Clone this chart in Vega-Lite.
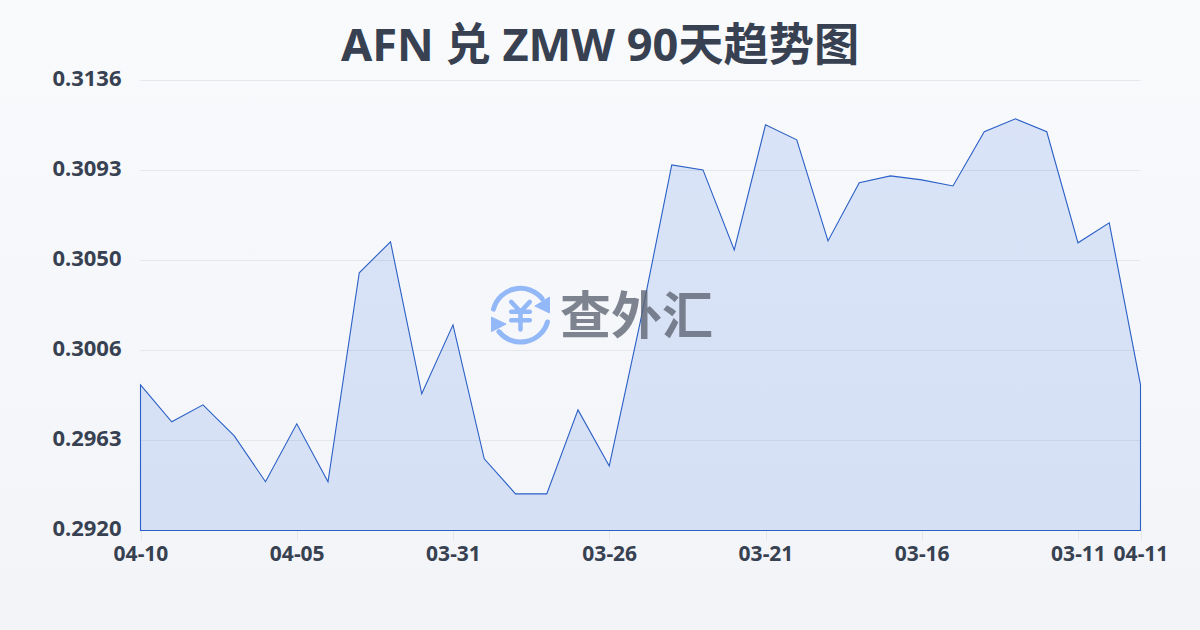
{"$schema":"https://vega.github.io/schema/vega-lite/v6.json","width":1200,"height":630,"autosize":{"type":"none"},"padding":0,"background":"#f6f7fa","title":{"text":"AFN 兑 ZMW 90天趋势图","font":"Noto Sans, Noto Sans CJK SC","fontSize":45.2,"fontWeight":"bold","color":"#374151","anchor":"middle","offset":-70},"config":{"view":{"stroke":null},"font":"Noto Sans"},"view":{"stroke":null,"fill":{"gradient":"linear","x1":0,"y1":0,"x2":0,"y2":1,"stops":[{"offset":0,"color":"#f9fafc"},{"offset":1,"color":"#f2f4f8"}]}},"datasets":{"grid":[{"rate":0.292},{"rate":0.29632},{"rate":0.30064},{"rate":0.30496},{"rate":0.30928},{"rate":0.3136}],"rates":[{"date":"04-10","rate":0.29899},{"date":"04-09","rate":0.29722},{"date":"04-08","rate":0.29803},{"date":"04-07","rate":0.29654},{"date":"04-06","rate":0.29434},{"date":"04-05","rate":0.29712},{"date":"04-04","rate":0.29434},{"date":"04-03","rate":0.30437},{"date":"04-02","rate":0.30586},{"date":"04-01","rate":0.29856},{"date":"03-31","rate":0.30187},{"date":"03-30","rate":0.29544},{"date":"03-29","rate":0.29376},{"date":"03-28","rate":0.29376},{"date":"03-27","rate":0.29779},{"date":"03-26","rate":0.2951},{"date":"03-25","rate":0.30206},{"date":"03-24","rate":0.30955},{"date":"03-23","rate":0.30931},{"date":"03-22","rate":0.30547},{"date":"03-21","rate":0.31147},{"date":"03-20","rate":0.31075},{"date":"03-19","rate":0.3059},{"date":"03-18","rate":0.30869},{"date":"03-17","rate":0.30902},{"date":"03-16","rate":0.30883},{"date":"03-15","rate":0.30854},{"date":"03-14","rate":0.31114},{"date":"03-13","rate":0.31176},{"date":"03-12","rate":0.31114},{"date":"03-11","rate":0.30581},{"date":"03-10","rate":0.30677},{"date":"04-11","rate":0.29899}],"brandText":[{"date":"03-25","rate":0.30214,"label":"查外汇"}],"brandIcon":[{"date":"03-29","rate":0.30234}]},"layer":[{"data":{"name":"grid"},"mark":{"type":"rule","stroke":"#e5e7eb","strokeWidth":1},"encoding":{"x":{"datum":"04-10","type":"ordinal","title":null,"scale":{"type":"point","padding":0,"range":[140.5,1140.5],"domain":["04-10","04-09","04-08","04-07","04-06","04-05","04-04","04-03","04-02","04-01","03-31","03-30","03-29","03-28","03-27","03-26","03-25","03-24","03-23","03-22","03-21","03-20","03-19","03-18","03-17","03-16","03-15","03-14","03-13","03-12","03-11","03-10","04-11"]},"axis":{"title":null,"values":["04-10","04-05","03-31","03-26","03-21","03-16","03-11","04-11"],"offset":-100,"labelAngle":0,"labelFont":"Noto Sans","labelFontSize":21,"labelFontWeight":"bold","labelColor":"#374151","labelOverlap":false,"labelBound":false,"labelFlush":false,"labelPadding":3,"domain":false,"ticks":true,"tickSize":10,"tickColor":"#e5e7eb","grid":false}},"x2":{"datum":"04-11"},"y":{"field":"rate","type":"quantitative","title":null,"scale":{"domain":[0.292,0.3136],"range":[530.5,80.5],"nice":false,"zero":false},"axis":{"title":null,"values":[0.292,0.29632,0.30064,0.30496,0.30928,0.3136],"format":".4f","offset":-140,"labelOffset":-2,"labelFont":"Noto Sans","labelFontSize":22,"labelFontWeight":"bold","labelColor":"#374151","labelPadding":19,"labelOverlap":false,"labelBound":false,"domain":false,"ticks":false,"grid":false}}}},{"data":{"name":"rates"},"mark":{"type":"area","fill":"#2360e0","fillOpacity":0.14,"stroke":"#2a5fc6","strokeWidth":1.1,"strokeOpacity":1},"encoding":{"x":{"field":"date","type":"ordinal","title":null},"y":{"field":"rate","type":"quantitative","title":null},"y2":{"datum":0.292}}},{"data":{"name":"brandText"},"mark":{"type":"text","font":"Noto Sans CJK SC","fontSize":51,"fontWeight":"bold","fill":"#5d6472","opacity":0.78,"align":"center","baseline":"middle","dx":-4},"encoding":{"x":{"field":"date","type":"ordinal","title":null},"y":{"field":"rate","type":"quantitative","title":null},"text":{"field":"label"}}},{"data":{"name":"brandIcon"},"mark":{"type":"point","xOffset":5,"filled":false,"fill":null,"stroke":"#93b8f8","strokeWidth":5,"strokeCap":"round","size":3600,"opacity":1,"shape":"M-0.9 -0.2A0.93 0.93 0 0 1 0.72 -0.55M0.9 0.23A0.93 0.93 0 0 1 -0.72 0.55"},"encoding":{"x":{"field":"date","type":"ordinal","title":null},"y":{"field":"rate","type":"quantitative","title":null}}},{"data":{"name":"brandIcon"},"mark":{"type":"point","xOffset":5,"filled":true,"fill":"#93b8f8","stroke":"#93b8f8","strokeWidth":1,"size":3600,"opacity":1,"shape":"M0.967 -0.6L0.967 -0.07L0.48 -0.3ZM-0.967 0.07L-0.967 0.55L-0.48 0.3Z"},"encoding":{"x":{"field":"date","type":"ordinal","title":null},"y":{"field":"rate","type":"quantitative","title":null}}},{"data":{"name":"brandIcon"},"mark":{"type":"point","xOffset":5,"filled":false,"fill":null,"stroke":"#93b8f8","strokeWidth":4.5,"strokeCap":"round","size":3600,"opacity":1,"shape":"M-0.31 -0.44L0 -0.11L0.31 -0.44M-0.31 -0.11L0.31 -0.11M-0.31 0.17L0.31 0.17M0 -0.11L0 0.48"},"encoding":{"x":{"field":"date","type":"ordinal","title":null},"y":{"field":"rate","type":"quantitative","title":null}}}]}
